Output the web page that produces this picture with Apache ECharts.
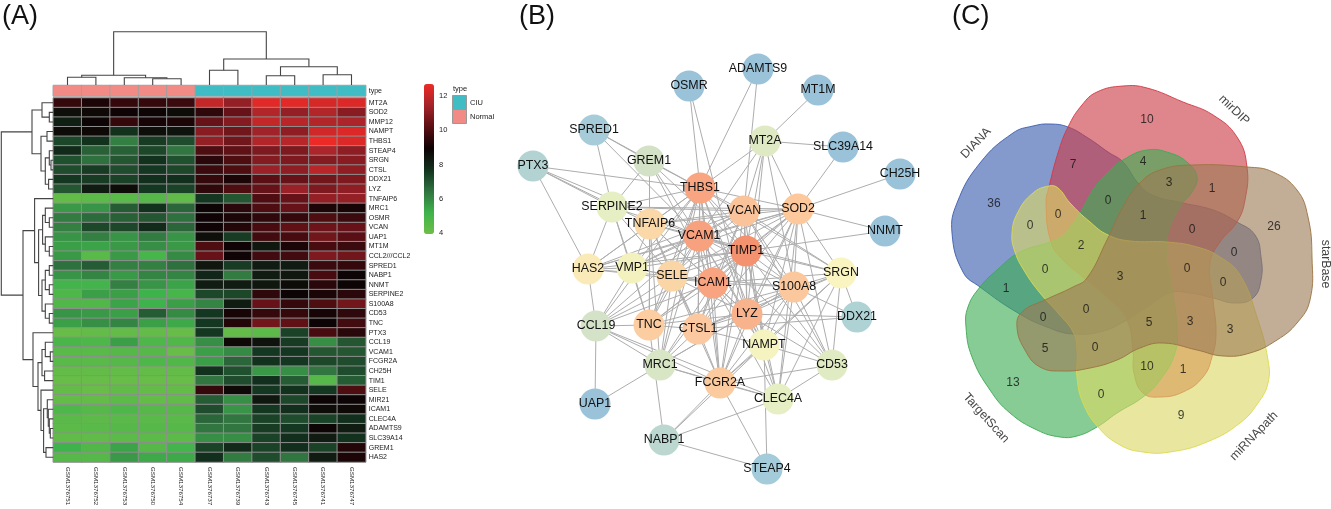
<!DOCTYPE html>
<html><head><meta charset="utf-8">
<style>html,body{margin:0;padding:0;background:#fff}#c{width:1331px;height:509px}</style>
<script src="https://cdn.jsdelivr.net/npm/echarts@6/dist/echarts.min.js"></script>
</head><body><div id="c"></div>
<script>
// ---------- (A) heat map ----------
const sampleNames = ['GSM1376751','GSM1376752','GSM1376753','GSM1376750','GSM1376754','GSM1376737','GSM1376739','GSM1376743','GSM1376745','GSM1376741','GSM1376747'];
const sampleTypes = [1,1,1,1,1,0,0,0,0,0,0];
const typeNames = ['CIU','Normal'];
const geneNames = ['MT2A','SOD2','MMP12','NAMPT','THBS1','STEAP4','SRGN','CTSL','DDX21','LYZ','TNFAIP6','MRC1','OSMR','VCAN','UAP1','MT1M','CCL2///CCL2','SPRED1','NABP1','NNMT','SERPINE2','S100A8','CD53','TNC','PTX3','CCL19','VCAM1','FCGR2A','CH25H','TIM1','SELE','MIR21','ICAM1','CLEC4A','ADAMTS9','SLC39A14','GREM1','HAS2'];
const expression = [
[9.6,9.2,9.6,9.6,9.7,12,11.2,12.5,12.5,12.3,12.4],
[8.6,8.8,9.0,8.9,8.7,9.5,10.4,11.7,11.2,11.7,11.0],
[8.2,8.9,9.6,9.1,9.2,10.4,10.9,12,11.8,11.7,11.6],
[8.7,8.8,7.7,8.6,8.5,11.0,10.6,11.4,11.1,12.2,12.4],
[7.3,7.7,6.2,7.5,7.2,11.2,10.6,11.7,11.8,12.7,12.4],
[7.9,6.8,6.8,7.3,6.4,10.0,10.3,10.8,10.8,11.6,11.1],
[7.1,6.5,7.0,7.7,7.1,9.4,10.0,10.9,10.8,10.9,11.0],
[7.2,7.5,7.2,7.6,7.3,9.7,10.0,11.3,11.1,11.8,11.1],
[7.6,7.5,7.4,7.8,7.8,9.6,9.2,10.2,10.4,10.6,10.8],
[7.0,8.3,8.7,7.6,7.4,9.5,10,10.4,11.3,10.8,11.1],
[4.2,4.4,4.5,4.6,4.3,7.6,7.0,10.0,10.4,11.2,11.2],
[5.7,5.8,6.9,7.7,6.7,8.9,9.4,10,10.4,9.2,9.1],
[6.3,6.6,6.8,7,6.5,9,9.2,9.5,9.6,10,9.7],
[6.2,7.3,7.3,7.9,6.7,9,9.3,9.9,10.3,10.5,10.4],
[5.8,6.2,5.8,6.3,5.8,8.6,7.5,9.8,9.9,10.6,10.2],
[5.6,5.5,5.7,5.9,5.7,10,9,8.4,9.2,9.9,9.7],
[5.7,4.5,5.7,5.0,6,10.4,9,9.8,9.8,10.8,10.6],
[6.5,6.9,6.2,6.2,6.5,8.4,7.5,8.3,8.3,9.7,9.6],
[5.8,6.1,5.7,6.1,6.1,8,6.3,8.3,8.4,9.9,8.9],
[5.1,5.1,6.2,5.8,5.5,8.3,8.3,8.4,8.7,9.4,8.9],
[4.8,5.6,5.6,5.2,5,7.3,7.3,9.5,8.9,9.2,9.4],
[4.7,4.7,5.5,5.2,5.6,6.1,8.3,10.4,9.6,10,10.6],
[5.8,5.7,5.6,6.9,6,7.6,9.1,9.6,9.6,9.1,9.5],
[5.6,5.9,6.1,5.6,5.4,7.6,9.3,10.6,10.3,8.9,9.8],
[4.1,4.2,4.2,4.2,4.1,7.6,4.2,4.4,7.4,9.9,9.4],
[4.9,4.8,5.6,4.8,4.7,5.9,8.8,8.5,7.5,5.9,7],
[4.5,4.5,4.6,4.6,4.1,5.6,6,7.6,7.6,7,7.0],
[4.5,4.5,4.6,4.8,4.7,5.6,6.7,7.7,7.6,7.3,7.2],
[4.2,4.2,4.2,4.2,4.2,7.7,7.1,5.7,5.9,6.4,7.2],
[4.1,4.1,4.1,4.1,4.1,6.4,7.2,7.8,6.9,4.6,6.9],
[4.2,4.1,4.3,4.2,4.2,9.6,8.8,7.6,7.7,7.6,10],
[4.2,4.2,4.4,4.2,4.3,6.9,5.9,8.4,7.3,8.9,8.9],
[4.8,4.6,4.8,4.6,4.6,7.2,5.8,7.6,7.8,8.7,8.8],
[4.5,4.4,4.5,4.5,4.5,6.7,6.4,7.4,7.2,7.4,7.8],
[4.4,4.5,4.6,4.6,4.6,6.4,6.4,7.5,7.6,8.9,8.3],
[4.3,4.3,4.4,4.4,4.4,5.9,5.9,7.4,7.8,8.3,7.7],
[5.2,4.7,5.5,4.6,5.1,7.4,7.9,7.4,7.8,7.4,9.3],
[4.6,4.6,5.7,5.4,5.4,7.8,6.3,7.2,6.4,8.3,9.2]];
// dendrograms: [merge height, left, right]; a bare number is a leaf index
const sampleTree = [53.3,[9.7,[7.7,0,1],[7.3,2,[6.3,3,4]]],[26,[14.7,5,6],[18.3,[9.3,7,8],[10.3,9,10]]]];
const geneTree = [52,[21.3,[11.3,0,[4,1,2]],[12.3,[6.3,3,4],[8,[4,5,[2.3,6,7]],[4.7,8,9]]]],
 [30.3,[18.7,10,[14.7,[10.7,[8,11,[4,12,13]],[8,14,[4,15,16]]],[11.3,[8,[4,17,18],[4,19,20]],[8,21,[4,22,23]]]]],
 [20.3,24,[15.3,[11.3,[8,25,[3,26,27]],[8.7,28,29]],[12.3,30,[9.7,[6,31,[5,32,[4,33,[3,34,35]]]],[7.3,36,37]]]]]]];

// ---------- (B) network ----------
const nodeNames = ['OSMR','ADAMTS9','MT1M','SPRED1','MT2A','SLC39A14','PTX3','GREM1','CH25H','THBS1','SOD2','VCAN','SERPINE2','TNFAIP6','NNMT','VCAM1','TIMP1','HAS2','VMP1','SELE','SRGN','ICAM1','S100A8','LYZ','DDX21','CCL19','TNC','CTSL1','NAMPT','MRC1','CD53','FCGR2A','CLEC4A','UAP1','NABP1','STEAP4'];
const nodeX = [689,758,818,594,765,843,533,649,900,700,798,744,612,650,885,699,746,588,632,672,841,713,794,747,857,596,649,698,764,660,832,720,778,595,664,767];
const nodeY = [86,69,90,130,141,147,166,161,174,188,209,211,207,224,231,236,251,269,268,276,273,283,287,314,317,326,325,329,345,365,365,383,399,404,440,469];
const nodeColors = ['#9ac3da','#9ac3da','#9ac3da','#a6cbd9','#dfe9c4','#9ac3da','#b3d3d3','#d3e1c6','#9ac3da','#f9a582','#fcc89c','#fac39a','#e5efc3','#fad8a8','#9ac3da','#f8a17f','#f4926f','#faeab8','#f3f1bd','#fad6a6','#f9f4c0','#f9a480','#fbc89d','#f8b38c','#afd3d5','#d4e3c8','#fbcda0','#fcc8a0','#f5f3bf','#d9e6c5','#e0ebc3','#fbca9e','#e6efc3','#9ac3da','#bcd7cf','#a4cbda'];
const adjacency = [
'PTX3 THBS1 SERPINE2 TNFAIP6 VCAM1 HAS2',
'SPRED1 GREM1 SERPINE2 THBS1 VCAM1',
'GREM1 THBS1 SERPINE2 TNC ICAM1 VCAM1 TIMP1',
'SERPINE2 THBS1 SOD2 VCAN TIMP1 HAS2 VMP1 TNC SELE',
'TNFAIP6 THBS1 VCAN SOD2 VCAM1 TIMP1 HAS2 VMP1 SELE ICAM1 TNC CTSL1 LYZ MRC1',
'THBS1 VCAN SOD2 VCAM1 TIMP1 HAS2 VMP1 SELE ICAM1 S100A8 SRGN LYZ TNC CTSL1 NAMPT MRC1 FCGR2A CCL19',
'VCAN SOD2 VCAM1 TIMP1 SELE ICAM1 S100A8 LYZ CTSL1 NAMPT HAS2 VMP1 FCGR2A SRGN CD53',
'SOD2 VCAM1 TIMP1 HAS2 VMP1 SELE ICAM1 S100A8 LYZ CTSL1 TNC NAMPT SRGN FCGR2A CD53 CLEC4A',
'VCAM1 TIMP1 HAS2 VMP1 SELE ICAM1 S100A8 LYZ TNC CTSL1 NAMPT MRC1 FCGR2A CD53 SRGN CCL19',
'TIMP1 HAS2 VMP1 SELE ICAM1 S100A8 SRGN LYZ TNC CTSL1 NAMPT CCL19 MRC1 FCGR2A CLEC4A CD53',
'ICAM1 HAS2 VMP1 SELE S100A8 LYZ TNC CTSL1 NAMPT CCL19 MRC1 FCGR2A CLEC4A SRGN',
'SELE HAS2 VMP1 S100A8 TNC LYZ CTSL1 CCL19 FCGR2A MRC1',
'S100A8 LYZ CTSL1 TNC NAMPT SRGN DDX21 FCGR2A CLEC4A CD53 MRC1',
'LYZ CTSL1 TNC NAMPT SRGN DDX21 FCGR2A CLEC4A MRC1 CD53',
'CTSL1 DDX21 TNC SRGN FCGR2A MRC1 NAMPT',
'TNC CCL19 NABP1 VMP1',
'HAS2 VMP1 CCL19',
'VMP1 CCL19',
'SRGN NAMPT DDX21 CD53 FCGR2A CLEC4A',
'NAMPT FCGR2A CLEC4A CD53 STEAP4 NABP1',
'CCL19 MRC1 FCGR2A CLEC4A UAP1',
'MRC1 FCGR2A CLEC4A UAP1',
'FCGR2A CD53 CLEC4A NABP1 STEAP4',
'CD53 CLEC4A',
'CLEC4A NABP1',
'NABP1 STEAP4',
'MT2A THBS1 VCAN VCAM1 TIMP1 SOD2 S100A8 SLC39A14 MT1M LYZ',
'OSMR THBS1 LYZ',
'ADAMTS9 THBS1 VCAN',
'SLC39A14 SOD2',
'CH25H SOD2',
'NNMT SOD2 TIMP1'];

// ---------- (C) Venn ----------
const dianaOutline = [[1050,124],[1068,127],[1088,138],[1108,152],[1123,162],[1138,183],[1152,195],[1183,203],[1213,210],[1237,222],[1255,235],[1261,257],[1261,280],[1253,298],[1235,303],[1213,298],[1190,293],[1170,293],[1143,310],[1127,320],[1103,331],[1073,334],[1047,327],[1018,313],[980,287],[963,272],[952,233],[957,203],[980,163],[1013,133],[1033,126]];
const mirdipOutline = [[1123,86],[1147,88],[1183,102],[1213,115],[1237,137],[1247,167],[1245,200],[1237,222],[1220,242],[1210,263],[1213,300],[1216,333],[1212,357],[1203,377],[1183,392],[1160,397],[1143,393],[1134,373],[1133,350],[1127,320],[1110,300],[1083,277],[1063,260],[1051,242],[1046,203],[1049,187],[1058,153],[1068,127],[1082,105],[1097,92]];
const targetscanOutline = [[1147,150],[1170,153],[1188,163],[1197,177],[1192,192],[1180,207],[1167,240],[1172,287],[1177,327],[1175,353],[1160,380],[1143,397],[1117,413],[1097,427],[1077,436],[1060,437],[1037,430],[1010,413],[990,390],[972,357],[966,327],[968,307],[980,287],[997,270],[1020,252],[1050,242],[1063,235],[1080,213],[1093,190],[1107,173],[1123,160]];
const mirnapathOutline = [[1049,186],[1058,188],[1070,203],[1090,222],[1108,235],[1130,241],[1167,242],[1197,247],[1220,257],[1240,275],[1257,317],[1268,360],[1268,383],[1258,403],[1240,423],[1207,442],[1170,452],[1143,452],[1120,445],[1098,427],[1083,403],[1077,377],[1077,350],[1073,332],[1058,313],[1040,293],[1025,272],[1015,252],[1012,233],[1018,212],[1033,193]];
const starbaseOutline = [[1193,165],[1247,167],[1273,172],[1297,190],[1308,217],[1312,257],[1310,300],[1297,323],[1277,340],[1250,353],[1223,356],[1197,350],[1163,343],[1140,348],[1117,360],[1090,368],[1063,371],[1040,367],[1025,350],[1017,327],[1022,312],[1045,300],[1073,287],[1087,278],[1107,240],[1123,207],[1140,183],[1160,170]];
const vennCounts = [['36',994,204],['10',1147,120],['7',1073,165],['4',1143,162],['3',1169,183],['1',1212,189],['0',1108,201],['1',1143,216],['0',1058,215],['0',1030,226],['26',1274,227],['0',1192,230],['2',1081,246],['0',1234,253],['0',1045,270],['0',1187,269],['3',1120,277],['0',1223,283],['1',1006,289],['0',1086,310],['0',1043,318],['5',1149,323],['3',1190,322],['3',1230,330],['5',1045,349],['0',1095,348],['10',1147,367],['1',1183,370],['13',1013,383],['0',1101,395],['9',1181,416]];
const vennSetNames = [['DIANA',976,143,46],['mirDIP',1234,110,-44],['starBase',1325,264,-90],['TargetScan',986,418,-48],['miRNApath',1254,436,46]];

// ---------- helpers ----------
const FONT = '"Liberation Sans", Arial, sans-serif';
function flattenTree(tree, out) {
  if (typeof tree === 'number') return {pos: tree, h: 0};
  const a = flattenTree(tree[1], out), b = flattenTree(tree[2], out);
  out.push([a.pos, a.h, b.pos, b.h, tree[0]]);
  return {pos: (a.pos + b.pos) / 2, h: tree[0]};
}
function treeSeries(tree, horizontal, gridIdx) {
  const segs = []; flattenTree(tree, segs);
  return {
    type: 'custom', xAxisIndex: gridIdx, yAxisIndex: gridIdx, silent: true, clip: false, data: segs,
    encode: {x: horizontal ? 4 : 0, y: horizontal ? 0 : 1},
    renderItem: (p, api) => {
      const A = api.value(0), HA = api.value(1), B = api.value(2), HB = api.value(3), H = api.value(4);
      const c = horizontal ? (pos, h) => api.coord([h, pos]) : (pos, h) => api.coord([pos, h]);
      return {type: 'polyline', shape: {points: [c(A, HA), c(A, H), c(B, H), c(B, HB)]},
        style: {stroke: '#444', fill: null, lineWidth: 1.1}};
    }
  };
}
function vennSeries(outline, fill, stroke) {
  return {
    type: 'custom', xAxisIndex: 6, yAxisIndex: 6, silent: true, clip: false, data: outline,
    renderItem: (p, api) => {
      if (p.dataIndex !== 0) return null;
      return {type: 'polygon', shape: {points: outline.map(o => api.coord(o)), smooth: 0.45},
        style: {fill, stroke, lineWidth: 1, fillOpacity: 0.62, strokeOpacity: 0.9}};
    }
  };
}
function hiddenAxis(min, max, inverse, gridIndex) {
  return {type: 'value', min, max, inverse: !!inverse, gridIndex, show: false};
}

// ---------- data for series ----------
const heatData = [];
expression.forEach((row, r) => row.forEach((v, c) => heatData.push([c, r, v])));
const links = [];
adjacency.forEach(line => {
  const parts = line.split(' ');
  parts.slice(1).forEach(t => links.push({source: parts[0], target: t}));
});
const graphNodes = nodeNames.map((n, i) => ({name: n, value: [nodeX[i], nodeY[i]], itemStyle: {color: nodeColors[i]}}));

const chart = echarts.init(document.getElementById('c'), null, {renderer: 'canvas'});
chart.setOption({
  animation: false,
  backgroundColor: '#fff',
  textStyle: {fontFamily: FONT},
  title: [
    {text: '(A)', left: 2, top: 3},
    {text: '(B)', left: 519, top: 3},
    {text: '(C)', left: 952, top: 3}
  ].map(t => Object.assign(t, {padding: 0, textStyle: {fontFamily: FONT, fontSize: 27, fontWeight: 'normal', color: '#111'}})),
  grid: [
    {left: 53.3, top: 98, width: 312.4, height: 364},
    {left: 53.3, top: 85.5, width: 312.4, height: 10.5},
    {left: 53.3, top: 31, width: 312.4, height: 54},
    {left: 0, top: 98, width: 53.3, height: 364},
    {left: 424, top: 96, width: 10, height: 137},
    {left: 500, top: 40, width: 420, height: 450},
    {left: 930, top: 60, width: 401, height: 430}
  ],
  xAxis: [
    {type: 'category', gridIndex: 0, data: sampleNames, position: 'bottom', axisLine: {show: false}, axisTick: {show: false}, splitLine: {show: false},
     axisLabel: {rotate: -90, fontSize: 6.2, color: '#222', margin: 5, interval: 0}},
    {type: 'category', gridIndex: 1, data: sampleNames, show: false},
    hiddenAxis(-0.5, 10.5, false, 2),
    hiddenAxis(0, 53.3, true, 3),
    {type: 'value', gridIndex: 4, min: 0, max: 1, show: false},
    hiddenAxis(500, 920, false, 5),
    hiddenAxis(930, 1331, false, 6)
  ],
  yAxis: [
    {type: 'category', gridIndex: 0, data: geneNames, inverse: true, position: 'right', axisLine: {show: false}, axisTick: {show: false}, splitLine: {show: false},
     axisLabel: {fontSize: 7, color: '#222', margin: 3, interval: 0}},
    {type: 'category', gridIndex: 1, data: ['type'], position: 'right', axisLine: {show: false}, axisTick: {show: false},
     axisLabel: {fontSize: 7, color: '#222', margin: 3}},
    hiddenAxis(0, 54, false, 2),
    hiddenAxis(-0.5, 37.5, true, 3),
    {type: 'value', gridIndex: 4, min: 4, max: 12, interval: 2, position: 'right', axisLine: {show: false}, axisTick: {show: false}, splitLine: {show: false},
     axisLabel: {fontSize: 7.5, color: '#222', margin: 5}},
    hiddenAxis(40, 490, true, 5),
    hiddenAxis(60, 490, true, 6)
  ],
  visualMap: [
    {type: 'continuous', seriesIndex: 0, dimension: 2, min: 3.95, max: 12.7, left: 424, top: 84, itemWidth: 10, itemHeight: 150, padding: 0, show: true, calculable: false, silent: true, hoverLink: false,
     inRange: {color: ['#6dbe47', '#3fb34b', '#307340', '#12321e', '#0d0204', '#5a0f14', '#a3242a', '#ee2a26']}},
    {type: 'piecewise', seriesIndex: 1, dimension: 2, show: false,
     pieces: [{value: 0, color: '#40bcc4'}, {value: 1, color: '#f28b85'}]}
  ],
  graphic: [
    {type: 'text', left: 453, top: 85, style: {text: 'type', font: '7.5px ' + FONT, fill: '#222'}},
    {type: 'rect', left: 452, top: 95, shape: {width: 14, height: 14}, style: {fill: '#40bcc4', stroke: '#999', lineWidth: 1}},
    {type: 'rect', left: 452, top: 109, shape: {width: 14, height: 14}, style: {fill: '#f28b85', stroke: '#999', lineWidth: 1}},
    {type: 'text', left: 470, top: 99, style: {text: typeNames[0], font: '7.5px ' + FONT, fill: '#222'}},
    {type: 'text', left: 470, top: 113, style: {text: typeNames[1], font: '7.5px ' + FONT, fill: '#222'}}
  ],
  series: [
    {type: 'heatmap', xAxisIndex: 0, yAxisIndex: 0, data: heatData, silent: true, progressive: 0,
     itemStyle: {borderColor: '#8e8e8e', borderWidth: 1}},
    {type: 'heatmap', xAxisIndex: 1, yAxisIndex: 1, data: sampleTypes.map((t, i) => [i, 0, t]), silent: true,
     itemStyle: {borderColor: '#a0a0a0', borderWidth: 1}},
    treeSeries(sampleTree, false, 2),
    treeSeries(geneTree, true, 3),
    {type: 'graph', coordinateSystem: 'cartesian2d', xAxisIndex: 5, yAxisIndex: 5, layout: 'none', silent: true,
     data: graphNodes, links, symbol: 'circle', symbolSize: 31,
     lineStyle: {color: '#adadad', width: 1, opacity: 1, curveness: 0},
     label: {show: true, position: 'inside', fontSize: 12.4, color: '#111', fontFamily: FONT}},
    vennSeries(dianaOutline, '#395caf', '#3e5fae'),
    vennSeries(mirdipOutline, '#cb3c47', '#d13a45'),
    vennSeries(targetscanOutline, '#3cac53', '#3faa55'),
    vennSeries(mirnapathOutline, '#dcd964', '#dcd94f'),
    vennSeries(starbaseOutline, '#9d7a55', '#9a7340'),
    {type: 'scatter', xAxisIndex: 6, yAxisIndex: 6, symbolSize: 0, silent: true, clip: false,
     data: vennCounts.map(d => ({name: d[0], value: [d[1], d[2]]})),
     label: {show: true, position: 'inside', formatter: '{b}', fontSize: 12, color: '#111', fontFamily: FONT}},
    {type: 'scatter', xAxisIndex: 6, yAxisIndex: 6, symbolSize: 0, silent: true, clip: false,
     data: vennSetNames.map(d => ({name: d[0], value: [d[1], d[2]], label: {rotate: d[3]}})),
     label: {show: true, position: 'inside', formatter: '{b}', fontSize: 12.3, color: '#111', fontFamily: FONT}}
  ]
});
</script></body></html>
